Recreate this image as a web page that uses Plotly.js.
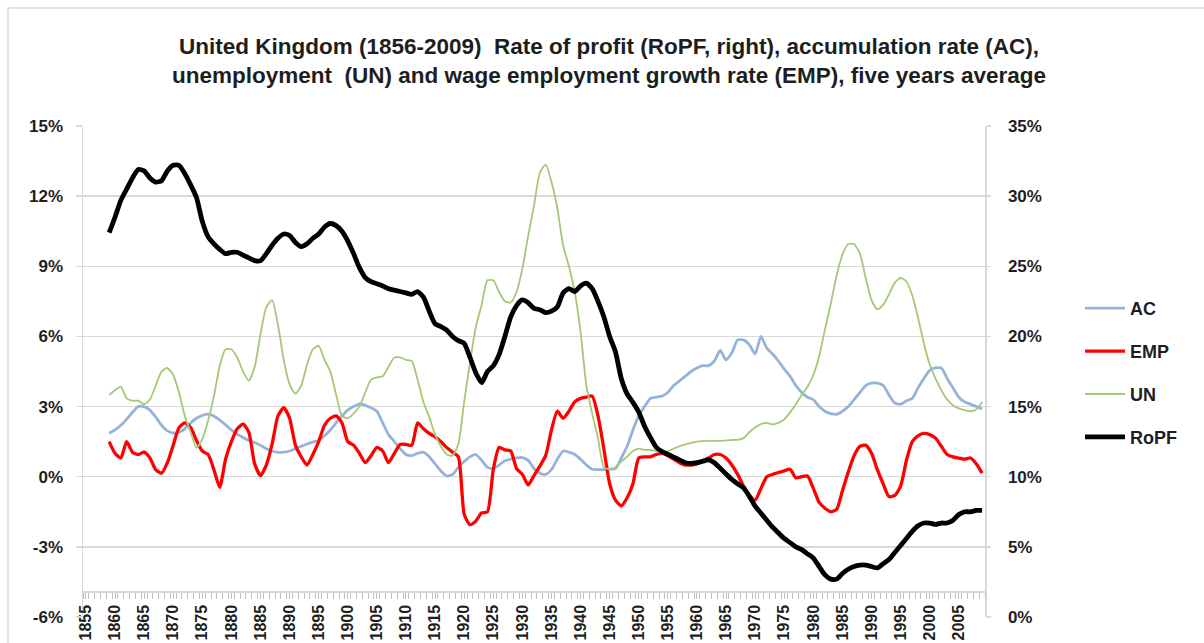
<!DOCTYPE html>
<html>
<head>
<meta charset="utf-8">
<script src="https://cdn.plot.ly/plotly-3.0.1.min.js"></script>
<style>html,body{margin:0;padding:0;background:#fff;}#chart{width:1204px;height:643px;}</style>
</head>
<body>
<div id="chart"></div>
<script>
// Years (categories)
const years = [
  1859,
  1860,1861,1862,1863,1864,1865,1866,1867,1868,1869,
  1870,1871,1872,1873,1874,1875,1876,1877,1878,1879,
  1880,1881,1882,1883,1884,1885,1886,1887,1888,1889,
  1890,1891,1892,1893,1894,1895,1896,1897,1898,1899,
  1900,1901,1902,1903,1904,1905,1906,1907,1908,1909,
  1910,1911,1912,1913,1914,1915,1916,1917,1918,1919,
  1920,1921,1922,1923,1924,1925,1926,1927,1928,1929,
  1930,1931,1932,1933,1934,1935,1936,1937,1938,1939,
  1940,1941,1942,1943,1944,1945,1946,1947,1948,1949,
  1950,1951,1952,1953,1954,1955,1956,1957,1958,1959,
  1960,1961,1962,1963,1964,1965,1966,1967,1968,1969,
  1970,1971,1972,1973,1974,1975,1976,1977,1978,1979,
  1980,1981,1982,1983,1984,1985,1986,1987,1988,1989,
  1990,1991,1992,1993,1994,1995,1996,1997,1998,1999,
  2000,2001,2002,2003,2004,2005,2006,2007,2008,2009
];

// Accumulation rate (AC), % — left axis
const AC = [
  1.86,
  2.0,2.2,2.45,2.75,3.0,3.0,2.85,2.55,2.2,1.96,
  1.87,1.9,2.05,2.3,2.5,2.62,2.68,2.6,2.42,2.22,
  2.0,1.82,1.68,1.55,1.46,1.34,1.2,1.1,1.04,1.05,
  1.1,1.2,1.3,1.4,1.48,1.55,1.75,2.0,2.3,2.6,
  2.85,3.0,3.12,3.05,2.95,2.8,2.3,1.8,1.5,1.2,
  0.95,0.9,1.0,1.05,0.85,0.55,0.25,0.03,0.1,0.4,
  0.65,0.85,0.95,0.7,0.4,0.35,0.5,0.68,0.75,0.8,
  0.82,0.7,0.35,0.15,0.1,0.3,0.75,1.1,1.05,0.95,
  0.75,0.5,0.32,0.3,0.3,0.32,0.35,0.8,1.3,2.0,
  2.6,3.0,3.35,3.4,3.45,3.6,3.9,4.1,4.3,4.5,
  4.65,4.75,4.75,4.95,5.4,5.0,5.3,5.85,5.85,5.65,
  5.25,6.0,5.5,5.25,4.95,4.6,4.3,3.9,3.6,3.4,
  3.3,3.0,2.8,2.7,2.67,2.8,3.0,3.3,3.6,3.9,
  4.0,4.0,3.9,3.5,3.15,3.1,3.25,3.35,3.8,4.2,
  4.55,4.65,4.65,4.2,3.8,3.4,3.2,3.1,3.0,2.9
];

// Wage employment growth rate (EMP), % — left axis
const EMP = [
  1.5,
  1.0,0.8,1.5,1.05,0.95,1.05,0.8,0.3,0.15,0.6,
  1.35,2.1,2.3,2.1,1.55,1.1,0.95,0.3,-0.45,0.75,
  1.5,2.05,2.25,1.9,0.55,0.05,0.5,1.4,2.6,2.95,
  2.5,1.35,0.85,0.5,0.95,1.5,2.2,2.5,2.6,2.3,
  1.5,1.35,1.0,0.6,0.9,1.25,1.1,0.6,1.0,1.38,
  1.38,1.35,2.3,2.05,1.85,1.7,1.5,1.25,1.05,0.85,
  -1.6,-2.05,-1.9,-1.55,-1.5,0.3,1.25,1.15,1.1,0.35,
  0.1,-0.35,0.05,0.45,0.9,2.0,2.8,2.5,2.8,3.2,
  3.35,3.4,3.45,2.6,1.2,-0.3,-1.0,-1.25,-0.9,-0.3,
  0.8,0.85,0.85,0.95,1.0,0.9,0.75,0.6,0.5,0.5,
  0.55,0.68,0.8,0.95,0.95,0.8,0.5,0.1,-0.4,-0.8,
  -1.0,-0.5,0.0,0.1,0.18,0.25,0.32,-0.05,0.0,0.03,
  -0.5,-1.1,-1.35,-1.5,-1.4,-0.6,0.2,0.9,1.3,1.35,
  1.0,0.3,-0.3,-0.85,-0.8,-0.4,0.7,1.5,1.75,1.85,
  1.8,1.65,1.3,0.95,0.85,0.8,0.75,0.8,0.55,0.15
];

// Unemployment (UN), % — left axis
const UN = [
  3.5,
  3.7,3.85,3.35,3.25,3.25,3.1,3.3,3.9,4.5,4.65,
  4.35,3.6,2.6,1.9,1.25,1.6,2.4,3.45,4.75,5.45,
  5.45,5.1,4.5,4.1,4.7,6.1,7.25,7.55,6.5,5.0,
  3.95,3.55,3.9,4.8,5.45,5.6,5.0,4.5,3.5,2.6,
  2.5,2.7,3.0,3.6,4.15,4.25,4.3,4.7,5.1,5.1,
  5.0,4.95,4.15,3.2,2.55,1.8,1.3,0.95,0.9,1.4,
  3.2,4.9,6.4,7.35,8.4,8.4,7.9,7.5,7.45,7.9,
  8.9,10.3,11.6,13.0,13.35,12.6,11.5,9.9,9.0,7.9,
  6.2,3.9,2.7,1.65,0.4,0.32,0.4,0.65,0.85,1.1,
  1.2,1.15,1.15,1.1,1.05,1.1,1.2,1.3,1.38,1.45,
  1.5,1.52,1.53,1.53,1.53,1.55,1.57,1.58,1.65,1.9,
  2.1,2.25,2.3,2.24,2.3,2.45,2.75,3.1,3.5,3.85,
  4.35,5.15,6.3,7.4,8.6,9.5,9.95,9.95,9.55,8.5,
  7.55,7.16,7.35,7.8,8.3,8.5,8.35,7.75,6.8,5.7,
  4.8,4.2,3.7,3.3,3.05,2.92,2.85,2.8,2.88,3.2
];

// Rate of profit (RoPF), % — right axis
const RoPF = [
  27.4,
  28.5,29.7,30.5,31.3,31.9,31.8,31.3,31.0,31.1,31.8,
  32.2,32.2,31.6,30.8,29.9,28.2,27.1,26.6,26.2,25.9,
  26.0,26.0,25.8,25.6,25.4,25.4,25.9,26.5,27.0,27.3,
  27.2,26.7,26.4,26.6,27.0,27.3,27.8,28.05,27.9,27.5,
  26.8,25.9,24.9,24.2,23.9,23.75,23.6,23.4,23.3,23.2,
  23.1,23.0,23.2,22.8,21.8,20.9,20.7,20.45,20.0,19.7,
  19.5,18.5,17.4,16.7,17.5,17.9,18.7,20.0,21.4,22.2,
  22.6,22.4,22.0,21.9,21.7,21.8,22.1,23.1,23.4,23.2,
  23.6,23.8,23.4,22.5,21.4,20.0,18.9,17.0,15.9,15.3,
  14.6,13.6,12.8,12.1,11.8,11.6,11.4,11.2,11.0,10.95,
  11.0,11.1,11.2,11.0,10.6,10.2,9.8,9.5,9.2,8.6,
  7.9,7.4,6.9,6.4,6.0,5.6,5.3,5.0,4.8,4.5,
  4.2,3.6,3.0,2.7,2.7,3.1,3.4,3.6,3.7,3.7,
  3.6,3.5,3.8,4.1,4.6,5.1,5.6,6.1,6.5,6.7,
  6.7,6.6,6.7,6.7,6.9,7.3,7.5,7.5,7.6,7.6
];

// Tick labels
const xTickVals = [1855,1860,1865,1870,1875,1880,1885,1890,1895,1900,1905,1910,1915,1920,1925,1930,1935,1940,1945,1950,1955,1960,1965,1970,1975,1980,1985,1990,1995,2000,2005];
const xTickText = ['1855','1860','1865','1870','1875','1880','1885','1890','1895','1900','1905','1910','1915','1920','1925','1930','1935','1940','1945','1950','1955','1960','1965','1970','1975','1980','1985','1990','1995','2000','2005'];
const leftTickVals = [-6,-3,0,3,6,9,12,15];
const leftTickText = ['-6%','-3%','0%','3%','6%','9%','12%','15%'];
const rightTickVals = [0,5,10,15,20,25,30,35];
const rightTickText = ['0%','5%','10%','15%','20%','25%','30%','35%'];

const FONT = 'Liberation Sans, Arial, sans-serif';
const GRID = '#d9d9d9';
const TXT = '#1e1e1e';

const traces = [
  {x: years, y: AC, name: 'AC', type: 'scatter', mode: 'lines', yaxis: 'y',
   line: {color: '#95b3d7', width: 2.8, shape: 'spline', smoothing: 0.6}, legendgroup: 'a'},
  {x: years, y: EMP, name: 'EMP', type: 'scatter', mode: 'lines', yaxis: 'y',
   line: {color: '#ff0000', width: 3.3, shape: 'spline', smoothing: 0.6}, legendgroup: 'b'},
  {x: years, y: UN, name: 'UN', type: 'scatter', mode: 'lines', yaxis: 'y',
   line: {color: '#a5c878', width: 1.8, shape: 'spline', smoothing: 0.6}, legendgroup: 'c'},
  {x: years, y: RoPF, name: 'RoPF', type: 'scatter', mode: 'lines', yaxis: 'y2',
   line: {color: '#000000', width: 4.8, shape: 'spline', smoothing: 0.6}, legendgroup: 'd'}
];

const L = 83, R = 985, T = 126, B = 617;
const plotW = R - L, plotH = B - T;

const layout = {
  width: 1204, height: 643,
  margin: {l: L, r: 1204 - R, t: T, b: 643 - B, pad: 0},
  paper_bgcolor: '#ffffff', plot_bgcolor: '#ffffff',
  font: {family: FONT, color: TXT, size: 16},
  showlegend: true,
  title: {
    text: '<b>United Kingdom (1856-2009)\u00a0 Rate of profit (RoPF, right), accumulation rate (AC),</b><br><b>unemployment\u00a0 (UN) and wage employment growth rate (EMP), five years average</b>',
    font: {family: FONT, size: 22.5, color: TXT},
    x: 609 / 1204, xref: 'container', xanchor: 'center',
    y: 1 - 54 / 643, yref: 'container', yanchor: 'middle',
    automargin: false
  },
  xaxis: {
    range: [1854.5, 2009.5],
    anchor: 'free', position: (B - 591) / plotH,
    showgrid: false, zeroline: false,
    showline: true, linecolor: GRID, linewidth: 1.5,
    tickmode: 'array', tickvals: xTickVals, ticktext: xTickText,
    tickangle: -90, ticks: 'outside', ticklen: 6, tickcolor: '#bfbfbf', tickwidth: 1,
    minor: {tick0: 1854.5, dtick: 1, ticks: 'outside', ticklen: 6, tickcolor: '#bfbfbf', tickwidth: 1, showgrid: false},
    tickfont: {family: FONT, size: 16, color: TXT, weight: 'bold'},
    automargin: false, fixedrange: true
  },
  yaxis: {
    range: [-6, 15], domain: [0, 1],
    tickmode: 'array', tickvals: leftTickVals, ticktext: leftTickText,
    showgrid: true, gridcolor: GRID, gridwidth: 1.5, zeroline: false,
    showline: true, linecolor: GRID, linewidth: 1.5,
    ticks: 'outside', ticklen: 6, tickcolor: GRID, tickwidth: 1.5,
    ticklabelstandoff: 9,
    tickfont: {family: FONT, size: 17, color: TXT, weight: 'bold'},
    automargin: false, fixedrange: true
  },
  yaxis2: {
    range: [0, 35], overlaying: 'y', side: 'right', anchor: 'x',
    tickmode: 'array', tickvals: rightTickVals, ticktext: rightTickText,
    showgrid: false, zeroline: false,
    showline: true, linecolor: GRID, linewidth: 1.5,
    ticks: 'outside', ticklen: 4, tickcolor: GRID, tickwidth: 1.5,
    ticklabelstandoff: 14,
    tickfont: {family: FONT, size: 17, color: TXT, weight: 'bold'},
    automargin: false, fixedrange: true
  },
  legend: {
    x: (1080 - L) / plotW, xref: 'paper', xanchor: 'left',
    y: (B - 290) / plotH, yanchor: 'top',
    traceorder: 'grouped', tracegroupgap: 16.5,
    font: {family: FONT, size: 18, color: TXT, weight: 'bold'},
    bgcolor: 'rgba(0,0,0,0)', itemwidth: 40
  },
  shapes: [
    {type: 'rect', xref: 'paper', yref: 'paper',
     x0: (8 - L) / plotW, x1: (1215 - L) / plotW,
     y0: (B - 660) / plotH, y1: (B - 8) / plotH,
     line: {color: GRID, width: 1.5}, fillcolor: 'rgba(0,0,0,0)', layer: 'above'}
  ]
};

Plotly.newPlot('chart', traces, layout, {staticPlot: true, displayModeBar: false});
</script>
</body>
</html>
